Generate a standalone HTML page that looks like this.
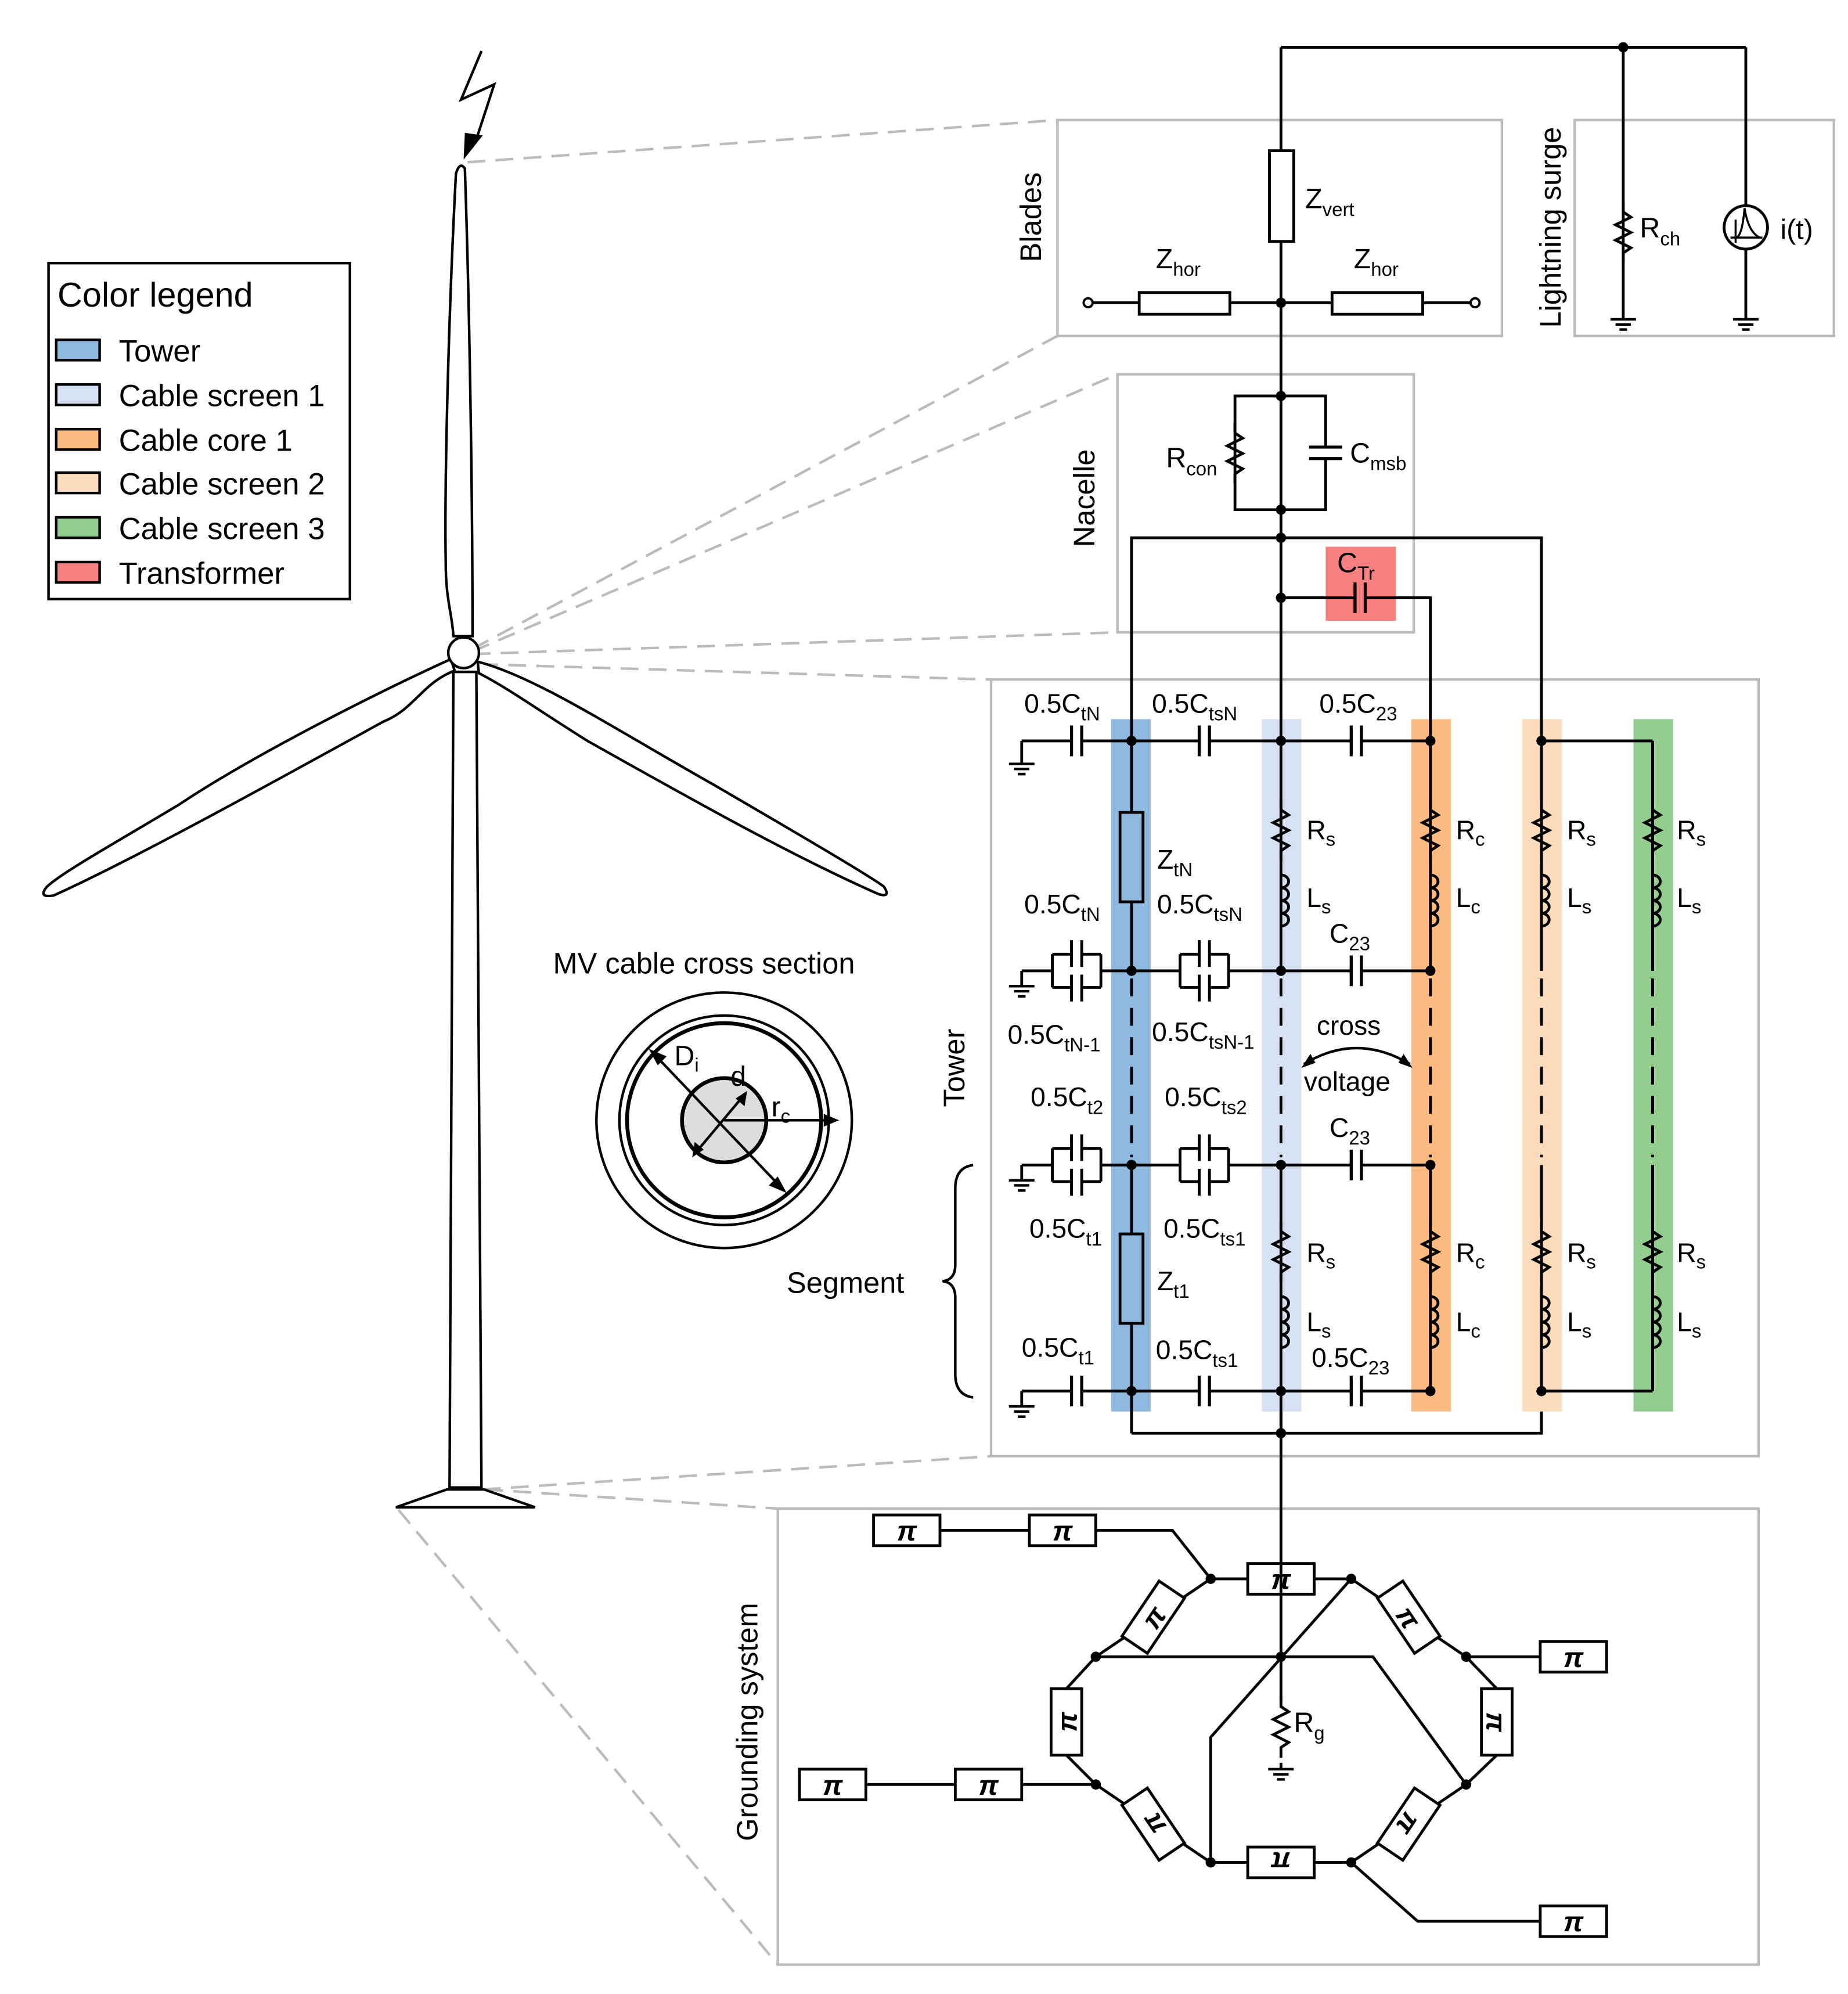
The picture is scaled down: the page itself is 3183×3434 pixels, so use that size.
<!DOCTYPE html>
<html><head><meta charset="utf-8"><style>
html,body{margin:0;padding:0;background:#fff;}
svg{display:block;}
text{font-family:"Liberation Sans",Arial,sans-serif;fill:#000;}
</style></head><body>
<svg xmlns="http://www.w3.org/2000/svg" width="3183" height="3434" viewBox="0 0 1447 1561" preserveAspectRatio="none">
<defs>
<g id="res"><path d="M0,-24 V-16 L6,-12 L-6,-6 L6,0 L-6,6 L6,12 L0,16 V24" fill="none" stroke="#000" stroke-width="2.2"/></g>
<g id="ind"><path d="M0,-20 a6,5 0 0 1 0,10 a6,5 0 0 1 0,10 a6,5 0 0 1 0,10 a6,5 0 0 1 0,10" fill="none" stroke="#000" stroke-width="2.2"/></g>
<g id="cap"><rect x="-4" y="-12" width="8" height="24" fill="#fff"/><path d="M-4,-12 V12 M4,-12 V12" stroke="#000" stroke-width="2.4"/></g>
<g id="dcap"><rect x="-19" y="-13" width="38" height="26" fill="#fff"/>
<path d="M-19,-13 H-4 M4,-13 H19 M-19,13 H-4 M4,13 H19 M-19,-13 V13 M19,-13 V13 M-4,-24 V-3 M4,-24 V-3 M-4,3 V24 M4,3 V24" fill="none" stroke="#000" stroke-width="2.2"/></g>
<g id="gnd"><path d="M-10,0 H10 M-6,4 H6 M-3,8 H3" stroke="#000" stroke-width="2"/></g>
<g id="pi"><rect x="-26" y="-12" width="52" height="24" fill="#fff" stroke="#000" stroke-width="2.2"/><text x="0" y="8" font-size="22" font-weight="bold" font-style="italic" text-anchor="middle">π</text></g>
<circle id="dot" r="4" fill="#000"/>
</defs>

<g stroke="#bbb" stroke-width="2" stroke-dasharray="14,8" fill="none">
<path d="M366,127 L828,94"/>
<path d="M370,508 L828,263"/>
<path d="M370,510 L875,293"/>
<path d="M370,512 L875,495"/>
<path d="M376,520 L776,532"/>
<path d="M378,1166 L776,1140"/>
<path d="M380,1166 L609,1181"/>
<path d="M312,1182 L609,1538"/>
</g>

<g fill="none" stroke="#bbb" stroke-width="2">
<rect x="828" y="94" width="348" height="169"/>
<rect x="1233" y="94" width="203" height="169"/>
<rect x="875" y="293" width="232" height="202"/>
<rect x="776" y="532" width="601" height="608"/>
<rect x="609" y="1181" width="768" height="357"/>
</g>

<path d="M377,40 L361,78 L387,66 L372,112" fill="none" stroke="#000" stroke-width="2"/>
<path d="M364,104 L378,106 L363,125 Z" fill="#000"/>

<g fill="#fff" stroke="#000" stroke-width="2">
<path d="M352,1165 L355,526 L373,526 L377,1165 Z"/>
<path d="M310,1180 L350,1166 L379,1166 L419,1180 Z"/>
<path d="M355,498 C354,480 349,470 349,440 C348,380 351,250 357,136 Q360,126 364,132 C368,250 370,400 370,498 Z"/>
<path d="M353,516 C300,540 200,590 140,630 C90,660 45,685 36,695 Q30,703 42,701 C100,675 200,620 300,565 C325,555 330,535 356,525 Z"/>
<path d="M374,518 C420,530 480,570 560,615 C620,650 680,685 692,694 Q698,703 688,700 C620,670 540,625 460,580 C420,555 400,540 375,527 Z"/>
<circle cx="363" cy="511" r="12"/>
</g>
<path d="M352,1165 H378" stroke="#000" stroke-width="3"/>

<rect x="38" y="206" width="236" height="263" fill="#fff" stroke="#000" stroke-width="2"/>
<text x="45" y="240" font-size="27">Color legend</text>
<g stroke="#000" stroke-width="2">
<rect x="44" y="266" width="34" height="16" fill="#8fb9de"/>
<rect x="44" y="301" width="34" height="16" fill="#d6e2f4"/>
<rect x="44" y="336" width="34" height="16" fill="#fdbb81"/>
<rect x="44" y="370" width="34" height="16" fill="#fddcbd"/>
<rect x="44" y="405" width="34" height="16" fill="#93cd8e"/>
<rect x="44" y="440" width="34" height="16" fill="#f98080"/>
</g>
<g font-size="24">
<text x="93" y="283">Tower</text>
<text x="93" y="318">Cable screen 1</text>
<text x="93" y="353">Cable core 1</text>
<text x="93" y="387">Cable screen 2</text>
<text x="93" y="422">Cable screen 3</text>
<text x="93" y="457">Transformer</text>
</g>

<text x="433" y="762" font-size="23">MV cable cross section</text>
<g fill="none" stroke="#000">
<circle cx="567" cy="877" r="100" stroke-width="2"/>
<circle cx="567" cy="877" r="82" stroke-width="2"/>
<circle cx="567" cy="877" r="76" stroke-width="3"/>
<circle cx="567" cy="877" r="33" fill="#ddd" stroke-width="3"/>
<path d="M512,825 L612,930 M545,902 L582,858 M567,877 L650,877" stroke-width="2"/>
</g>
<g fill="#000">
<path d="M508,821 L522,827 L515,834 Z"/><path d="M616,934 L602,928 L609,921 Z"/>
<path d="M585,854 L583,866 L576,860 Z"/><path d="M542,906 L544,894 L551,900 Z"/>
<path d="M657,877 L645,872 L645,882 Z"/>
</g>
<text x="528" y="834" font-size="22">D<tspan font-size="15" dy="5">i</tspan></text>
<text x="572" y="850" font-size="22">d</text>
<text x="604" y="874" font-size="22">r<tspan font-size="15" dy="5">c</tspan></text>

<text transform="translate(815,170) rotate(-90)" font-size="23" text-anchor="middle">Blades</text>
<text transform="translate(1222,178) rotate(-90)" font-size="23" text-anchor="middle">Lightning surge</text>
<text transform="translate(857,390) rotate(-90)" font-size="23" text-anchor="middle">Nacelle</text>
<text transform="translate(755,836) rotate(-90)" font-size="23" text-anchor="middle">Tower</text>
<text transform="translate(593,1348) rotate(-90)" font-size="23" text-anchor="middle">Grounding system</text>

<g stroke="#000" stroke-width="2.2" fill="none">
<path d="M1003,37 H1367 M1003,37 V1298"/>
<path d="M1271,37 V250 M1367,37 V250"/>
<path d="M852,237 H1155"/>
<path d="M1003,310 H967 V399 H1038 V310 H1003"/>
<path d="M886,1122 V421 H1207 V1122 H886"/>
<path d="M1003,468 H1120 V1089"/>
</g>
<rect x="994" y="118" width="19" height="71" fill="#fff" stroke="#000" stroke-width="2.2"/>
<rect x="892" y="229" width="71" height="17" fill="#fff" stroke="#000" stroke-width="2.2"/>
<rect x="1043" y="229" width="71" height="17" fill="#fff" stroke="#000" stroke-width="2.2"/>
<circle cx="852" cy="237" r="3.5" fill="#fff" stroke="#000" stroke-width="1.8"/>
<circle cx="1155" cy="237" r="3.5" fill="#fff" stroke="#000" stroke-width="1.8"/>
<text x="1022" y="163" font-size="22">Z<tspan font-size="15" dy="6">vert</tspan></text>
<text x="905" y="210" font-size="22">Z<tspan font-size="15" dy="6">hor</tspan></text>
<text x="1060" y="210" font-size="22">Z<tspan font-size="15" dy="6">hor</tspan></text>
<use href="#res" x="1271" y="182"/>
<use href="#gnd" x="1271" y="250"/><use href="#gnd" x="1367" y="250"/>
<text x="1284" y="186" font-size="22">R<tspan font-size="15" dy="6">ch</tspan></text>
<circle cx="1367" cy="178" r="17" fill="#fff" stroke="#000" stroke-width="2.2"/>
<path d="M1355,186 H1380 M1359,172 V190 M1359,186 Q1364,186 1366,163 Q1369,182 1378,186" fill="none" stroke="#000" stroke-width="1.6"/>
<text x="1394" y="187" font-size="22">i(t)</text>
<use href="#dot" x="1271" y="37"/>
<use href="#dot" x="1003" y="237"/>
<use href="#dot" x="1003" y="310"/><use href="#dot" x="1003" y="399"/><use href="#dot" x="1003" y="421"/><use href="#dot" x="1003" y="468"/>
<use href="#res" x="967" y="355"/>
<rect x="1025" y="350" width="26" height="9" fill="#fff"/>
<path d="M1025,350 H1051 M1025,359 H1051" stroke="#000" stroke-width="2.4"/>
<text x="913" y="366" font-size="22">R<tspan font-size="15" dy="6">con</tspan></text>
<text x="1057" y="362" font-size="22">C<tspan font-size="15" dy="6">msb</tspan></text>
<rect x="1038" y="428" width="55" height="58" fill="#f98080"/>
<path d="M1003,468 H1120" stroke="#000" stroke-width="2.2"/>
<g transform="translate(1065,468)"><rect x="-4" y="-12" width="8" height="24" fill="#f98080"/><path d="M-4,-12 V12 M4,-12 V12" stroke="#000" stroke-width="2.4"/></g>
<text x="1047" y="448" font-size="22">C<tspan font-size="15" dy="6">Tr</tspan></text>

<rect x="870" y="563" width="31" height="542" fill="#8fb9de"/>
<rect x="988" y="563" width="31" height="542" fill="#d6e2f4"/>
<rect x="1105" y="563" width="31" height="542" fill="#fdbb81"/>
<rect x="1192" y="563" width="31" height="542" fill="#fddcbd"/>
<rect x="1279" y="563" width="31" height="542" fill="#93cd8e"/>

<g stroke="#000" stroke-width="2.2" fill="none">
<path d="M800,580 H1120 M1207,580 H1294 M800,1089 H1120 M1207,1089 H1294"/>
<path d="M800,760 H1120 M800,912 H1120"/>
<path d="M800,580 V598 M800,760 V772 M800,912 V924 M800,1089 V1101"/>
<path d="M886,563 V760 M886,912 V1122 M1003,563 V760 M1003,912 V1122 M1120,563 V760 M1120,912 V1089 M1207,563 V760 M1207,912 V1089 M1294,580 V760 M1294,912 V1089"/>
</g>
<g stroke="#000" stroke-width="2.2" stroke-dasharray="14,9">
<path d="M886,766 V906 M1003,766 V906 M1120,766 V906 M1207,766 V906 M1294,766 V906"/>
</g>
<use href="#gnd" x="800" y="598"/><use href="#gnd" x="800" y="772"/><use href="#gnd" x="800" y="924"/><use href="#gnd" x="800" y="1101"/>
<use href="#cap" x="843" y="580"/><use href="#cap" x="943" y="580"/><use href="#cap" x="1062" y="580"/>
<use href="#cap" x="843" y="1089"/><use href="#cap" x="943" y="1089"/><use href="#cap" x="1062" y="1089"/>
<use href="#dcap" x="843" y="760"/><use href="#dcap" x="943" y="760"/><use href="#cap" x="1062" y="760"/>
<use href="#dcap" x="843" y="912"/><use href="#dcap" x="943" y="912"/><use href="#cap" x="1062" y="912"/>
<rect x="877" y="636" width="18" height="70" fill="#8fb9de" stroke="#000" stroke-width="2.2"/>
<rect x="877" y="966" width="18" height="70" fill="#8fb9de" stroke="#000" stroke-width="2.2"/>
<g>
<use href="#res" x="1003" y="650"/><use href="#ind" x="1003" y="705"/>
<use href="#res" x="1120" y="650"/><use href="#ind" x="1120" y="705"/>
<use href="#res" x="1207" y="650"/><use href="#ind" x="1207" y="705"/>
<use href="#res" x="1294" y="650"/><use href="#ind" x="1294" y="705"/>
<use href="#res" x="1003" y="980"/><use href="#ind" x="1003" y="1035"/>
<use href="#res" x="1120" y="980"/><use href="#ind" x="1120" y="1035"/>
<use href="#res" x="1207" y="980"/><use href="#ind" x="1207" y="1035"/>
<use href="#res" x="1294" y="980"/><use href="#ind" x="1294" y="1035"/>
</g>
<g>
<use href="#dot" x="886" y="580"/><use href="#dot" x="1003" y="580"/><use href="#dot" x="1120" y="580"/><use href="#dot" x="1207" y="580"/>
<use href="#dot" x="886" y="760"/><use href="#dot" x="1003" y="760"/><use href="#dot" x="1120" y="760"/>
<use href="#dot" x="886" y="912"/><use href="#dot" x="1003" y="912"/><use href="#dot" x="1120" y="912"/>
<use href="#dot" x="886" y="1089"/><use href="#dot" x="1003" y="1089"/><use href="#dot" x="1120" y="1089"/><use href="#dot" x="1207" y="1089"/>
<use href="#dot" x="1003" y="1122"/>
</g>
<g font-size="21">
<text x="802" y="558">0.5C<tspan font-size="15" dy="6">tN</tspan></text>
<text x="902" y="558">0.5C<tspan font-size="15" dy="6">tsN</tspan></text>
<text x="1033" y="558">0.5C<tspan font-size="15" dy="6">23</tspan></text>
<text x="906" y="680">Z<tspan font-size="15" dy="6">tN</tspan></text>
<text x="1023" y="657">R<tspan font-size="15" dy="5">s</tspan></text>
<text x="1140" y="657">R<tspan font-size="15" dy="5">c</tspan></text>
<text x="1227" y="657">R<tspan font-size="15" dy="5">s</tspan></text>
<text x="1313" y="657">R<tspan font-size="15" dy="5">s</tspan></text>
<text x="1023" y="710">L<tspan font-size="15" dy="5">s</tspan></text>
<text x="1140" y="710">L<tspan font-size="15" dy="5">c</tspan></text>
<text x="1227" y="710">L<tspan font-size="15" dy="5">s</tspan></text>
<text x="1313" y="710">L<tspan font-size="15" dy="5">s</tspan></text>
<text x="802" y="715">0.5C<tspan font-size="15" dy="6">tN</tspan></text>
<text x="906" y="715">0.5C<tspan font-size="15" dy="6">tsN</tspan></text>
<text x="1041" y="738">C<tspan font-size="15" dy="6">23</tspan></text>
<text x="789" y="817">0.5C<tspan font-size="15" dy="6">tN-1</tspan></text>
<text x="902" y="815">0.5C<tspan font-size="15" dy="6">tsN-1</tspan></text>
<text x="1031" y="810">cross</text>
<text x="1021" y="854">voltage</text>
<text x="807" y="866">0.5C<tspan font-size="15" dy="6">t2</tspan></text>
<text x="912" y="866">0.5C<tspan font-size="15" dy="6">ts2</tspan></text>
<text x="1041" y="890">C<tspan font-size="15" dy="6">23</tspan></text>
<text x="806" y="969">0.5C<tspan font-size="15" dy="6">t1</tspan></text>
<text x="911" y="969">0.5C<tspan font-size="15" dy="6">ts1</tspan></text>
<text x="906" y="1010">Z<tspan font-size="15" dy="6">t1</tspan></text>
<text x="1023" y="988">R<tspan font-size="15" dy="5">s</tspan></text>
<text x="1140" y="988">R<tspan font-size="15" dy="5">c</tspan></text>
<text x="1227" y="988">R<tspan font-size="15" dy="5">s</tspan></text>
<text x="1313" y="988">R<tspan font-size="15" dy="5">s</tspan></text>
<text x="1023" y="1042">L<tspan font-size="15" dy="5">s</tspan></text>
<text x="1140" y="1042">L<tspan font-size="15" dy="5">c</tspan></text>
<text x="1227" y="1042">L<tspan font-size="15" dy="5">s</tspan></text>
<text x="1313" y="1042">L<tspan font-size="15" dy="5">s</tspan></text>
<text x="800" y="1062">0.5C<tspan font-size="15" dy="6">t1</tspan></text>
<text x="905" y="1064">0.5C<tspan font-size="15" dy="6">ts1</tspan></text>
<text x="1027" y="1070">0.5C<tspan font-size="15" dy="6">23</tspan></text>
</g>
<path d="M1021,833 Q1062,808 1104,833" fill="none" stroke="#000" stroke-width="2"/>
<path d="M1019,836 L1026,825 L1030,832 Z M1106,836 L1099,825 L1095,832 Z" fill="#000"/>
<path d="M762,912 Q748,914 748,930 V990 Q748,1002 738,1003 Q748,1004 748,1016 V1076 Q748,1092 762,1094" fill="none" stroke="#000" stroke-width="2"/>
<text x="616" y="1012" font-size="23">Segment</text>

<g stroke="#000" stroke-width="2.2" fill="none">
<path d="M710,1198 H918 L948,1236 H1058 L1148,1297 H1258"/>
<path d="M948,1236 L858,1297 L835,1322 M835,1374 L858,1397 L948,1458 H1058 L1148,1397 L1172,1374 M1172,1322 L1148,1297"/>
<path d="M858,1297 H1075 L1148,1397"/>
<path d="M1058,1236 L948,1360 V1458"/>
<path d="M652,1397 H858"/>
<path d="M1058,1458 L1110,1504 H1232"/>
<path d="M1003,1297 V1385"/>
</g>
<rect x="996" y="1332" width="14" height="48" fill="#fff"/>
<use href="#res" x="1003" y="1352"/>
<use href="#gnd" x="1003" y="1385"/>
<text x="1013" y="1356" font-size="22">R<tspan font-size="15" dy="6">g</tspan></text>
<use href="#pi" x="710" y="1198"/><use href="#pi" x="832" y="1198"/>
<use href="#pi" x="1003" y="1236"/>
<use href="#pi" x="1232" y="1297"/>
<use href="#pi" x="652" y="1397"/><use href="#pi" x="774" y="1397"/>
<use href="#pi" x="1232" y="1504"/>
<g transform="translate(1003,1458) rotate(180)"><use href="#pi"/></g>
<g transform="translate(903,1266) rotate(-56)"><use href="#pi"/></g>
<g transform="translate(1103,1266) rotate(56)"><use href="#pi"/></g>
<g transform="translate(903,1428) rotate(-124)"><use href="#pi"/></g>
<g transform="translate(1103,1428) rotate(124)"><use href="#pi"/></g>
<g transform="translate(835,1348) rotate(-90)"><use href="#pi"/></g>
<g transform="translate(1172,1348) rotate(90)"><use href="#pi"/></g>
<path d="M1003,1224 V1249" stroke="#000" stroke-width="2.2"/>
<g>
<use href="#dot" x="948" y="1236"/><use href="#dot" x="1058" y="1236"/>
<use href="#dot" x="858" y="1297"/><use href="#dot" x="1148" y="1297"/><use href="#dot" x="1003" y="1297"/>
<use href="#dot" x="858" y="1397"/><use href="#dot" x="1148" y="1397"/>
<use href="#dot" x="948" y="1458"/><use href="#dot" x="1058" y="1458"/>
</g>
</svg>
</body></html>
